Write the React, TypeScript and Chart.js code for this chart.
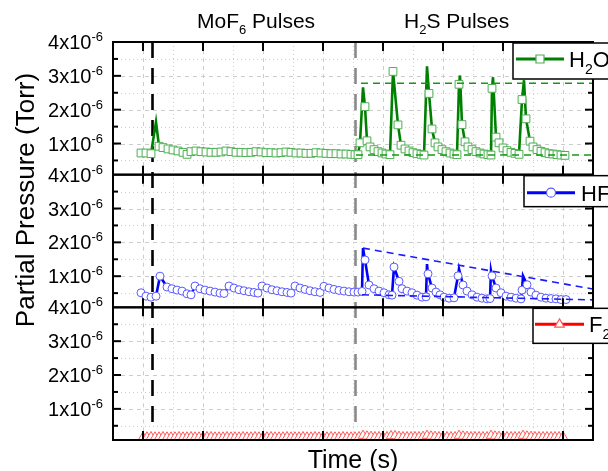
import React, { useEffect, useRef } from 'react';
import { Chart, registerables } from 'chart.js';

Chart.register(...registerables);

const FONT = '"Liberation Sans", Arial, Helvetica, sans-serif';

// ---------- axes ----------
const timeMin = 0;
const timeMax = 960; // s
const timeTicks = [60, 180, 300, 420, 540, 660, 780, 900];
const timeMinorGrid = [120, 240, 360, 480, 600, 720, 840];
const pressureMin = 0.08; // x1e-6 Torr
const pressureMax = 4;
const pressureTicks = [1, 2, 3, 4];
const pressureMinor = [0.5, 1.5, 2.5, 3.5];
const pressureExponent = '-6';
const mof6PulseStart = 79;
const h2sPulseStart = 485;

// ---------- H2O (x1e-6 Torr) ----------
const h2oTime = [
  56, 66, 76, 86, 92, 100, 110, 120, 130, 140, 148, 156, 166, 176, 186, 196, 206, 216, 226, 236,
  246, 256, 266, 276, 286, 296, 306, 316, 326, 336, 346, 356, 366, 376, 386, 396, 406, 416, 426, 436,
  446, 456, 466, 476, 484,
  490, 494, 500, 504, 508, 514, 522, 530, 538, 546, 554,
  560, 570, 576, 584, 592, 600, 608, 616, 622,
  628, 632, 638, 644, 650, 658, 666, 674, 682, 688,
  692, 694, 698, 704, 710, 718, 726, 734, 742, 750, 756,
  758, 760, 766, 772, 780, 788, 796, 804, 812,
  818, 822, 826, 834, 840, 848, 856, 864, 872, 880, 888, 896, 904,
];
const h2oValues = [
  0.72, 0.72, 0.70, 1.64, 0.92, 0.88, 0.84, 0.81, 0.78, 0.74, 0.68, 0.76, 0.78, 0.76, 0.75, 0.74, 0.74, 0.75, 0.78, 0.76,
  0.74, 0.74, 0.73, 0.74, 0.76, 0.75, 0.73, 0.73, 0.72, 0.73, 0.75, 0.74, 0.72, 0.72, 0.71, 0.71, 0.73, 0.72, 0.71, 0.70,
  0.70, 0.69, 0.69, 0.68, 0.67,
  0.67, 1.02, 2.66, 2.09, 1.08, 0.90, 0.82, 0.76, 0.72, 0.69, 0.67,
  3.13, 1.55, 0.95, 0.84, 0.78, 0.73, 0.70, 0.68, 0.66,
  3.28, 2.48, 1.43, 1.02, 0.90, 0.82, 0.76, 0.72, 0.69, 0.67,
  2.75, 3.01, 1.56, 1.05, 0.90, 0.82, 0.76, 0.72, 0.69, 0.67, 0.66,
  2.63, 2.96, 1.19, 1.02, 0.87, 0.79, 0.74, 0.71, 0.68,
  2.30, 2.87, 1.73, 1.07, 0.90, 0.82, 0.77, 0.73, 0.70, 0.69, 0.67, 0.66, 0.65,
];
const h2oUnmarkedTimes = [86, 500, 628, 694, 760, 822];
const h2oEnvelopeTopTime = [496, 960];
const h2oEnvelopeTop = [2.78, 2.78];
const h2oEnvelopeBottomTime = [486, 960];
const h2oEnvelopeBottom = [0.66, 0.66];

// ---------- HF ----------
const hfTime = [
  56, 66, 76, 86, 94, 108, 118, 128, 138, 148, 156, 164, 174, 184, 194, 204, 214, 222, 232, 242,
  252, 262, 272, 282, 290, 298, 308, 318, 328, 338, 348, 356, 364, 374, 384, 394, 404, 414, 422, 432,
  442, 452, 462, 472, 482,
  490, 498, 500, 504, 512, 522, 532, 542, 552, 558,
  562, 572, 578, 588, 598, 608, 618, 626,
  628, 630, 638, 646, 654, 662, 672, 682,
  690, 692, 700, 708, 718, 728, 738, 748, 754,
  756, 758, 766, 776, 786, 796, 806, 816,
  818, 820, 828, 836, 846, 856, 866, 876, 886, 896, 906,
];
const hfValues = [
  0.51, 0.41, 0.38, 0.41, 1.00, 0.68, 0.63, 0.59, 0.56, 0.48, 0.45, 0.71, 0.63, 0.59, 0.56, 0.53, 0.50, 0.49, 0.71, 0.65,
  0.60, 0.57, 0.54, 0.52, 0.50, 0.71, 0.65, 0.60, 0.57, 0.54, 0.52, 0.50, 0.71, 0.65, 0.61, 0.57, 0.54, 0.52, 0.70, 0.65,
  0.61, 0.58, 0.56, 0.54, 0.53,
  0.53, 0.55, 1.83, 1.48, 0.74, 0.63, 0.56, 0.51, 0.45, 0.44,
  1.27, 0.85, 0.63, 0.56, 0.51, 0.44, 0.38, 0.39,
  1.36, 1.07, 0.65, 0.53, 0.45, 0.38, 0.35, 0.36,
  1.01, 1.22, 0.74, 0.56, 0.45, 0.38, 0.35, 0.33, 0.34,
  1.16, 1.01, 0.65, 0.51, 0.41, 0.38, 0.35, 0.33,
  0.59, 1.01, 0.75, 0.53, 0.44, 0.38, 0.35, 0.34, 0.33, 0.31, 0.31,
];
const hfUnmarkedTimes = [500, 628, 692, 756, 820];
const hfEnvelopeTopTime = [500, 960];
const hfEnvelopeTop = [1.83, 0.62];
const hfEnvelopeBottomTime = [498, 960];
const hfEnvelopeBottom = [0.45, 0.30];

// ---------- F2 ----------
const f2Time = [
  60, 68, 76, 84, 92, 100, 108, 116, 124, 132,
  140, 148, 156, 164, 172, 180, 188, 196, 204, 212,
  220, 228, 236, 244, 252, 260, 268, 276, 284, 292,
  300, 308, 316, 324, 332, 340, 348, 356, 364, 372,
  380, 388, 396, 404, 412, 420, 428, 436, 444, 452,
  460, 468, 476, 484, 492, 500, 508, 516, 524, 532,
  540, 548, 556, 564, 572, 580, 588, 596, 604, 612,
  620, 628, 636, 644, 652, 660, 668, 676, 684, 692,
  700, 708, 716, 724, 732, 740, 748, 756, 764, 772,
  780, 788, 796, 804, 812, 820, 828, 836, 844, 852,
  860, 868, 876, 884, 892, 900,
];
const f2Values = [
  0.16, 0.16, 0.17, 0.16, 0.16, 0.17, 0.16, 0.16, 0.16, 0.17,
  0.16, 0.16, 0.17, 0.16, 0.16, 0.16, 0.17, 0.17, 0.16, 0.16,
  0.16, 0.17, 0.16, 0.16, 0.16, 0.17, 0.16, 0.16, 0.17, 0.16,
  0.16, 0.16, 0.17, 0.16, 0.16, 0.16, 0.17, 0.16, 0.16, 0.16,
  0.17, 0.16, 0.16, 0.17, 0.16, 0.16, 0.16, 0.17, 0.16, 0.16,
  0.17, 0.16, 0.16, 0.16, 0.17, 0.21, 0.19, 0.18, 0.17, 0.17,
  0.17, 0.17, 0.20, 0.20, 0.18, 0.17, 0.17, 0.17, 0.17, 0.17,
  0.18, 0.21, 0.19, 0.18, 0.17, 0.17, 0.17, 0.17, 0.17, 0.21,
  0.19, 0.18, 0.17, 0.17, 0.17, 0.17, 0.17, 0.21, 0.19, 0.18,
  0.17, 0.17, 0.17, 0.17, 0.17, 0.21, 0.19, 0.18, 0.17, 0.17,
  0.17, 0.17, 0.17, 0.17, 0.17, 0.17,
];

const zip = (xs: number[], ys: number[]) => xs.map((x, i) => ({ x, y: ys[i] }));

const panelIds = ['yH2O', 'yHF', 'yF2'];

function hLine(ctx: CanvasRenderingContext2D, x0: number, x1: number, y: number) {
  ctx.beginPath();
  ctx.moveTo(x0, y);
  ctx.lineTo(x1, y);
  ctx.stroke();
}
function vLine(ctx: CanvasRenderingContext2D, x: number, y0: number, y1: number) {
  ctx.beginPath();
  ctx.moveTo(x, y0);
  ctx.lineTo(x, y1);
  ctx.stroke();
}

type Part = [string, boolean];
function drawRich(ctx: CanvasRenderingContext2D, parts: Part[], x: number, y: number, size: number, align: 'left' | 'center') {
  const sub = Math.round(size * 0.62);
  const widths = parts.map(([s, isSub]) => {
    ctx.font = `${isSub ? sub : size}px ${FONT}`;
    return ctx.measureText(s).width;
  });
  const total = widths.reduce((a, b) => a + b, 0);
  let cx = align === 'center' ? x - total / 2 : x;
  ctx.textAlign = 'left';
  ctx.textBaseline = 'alphabetic';
  parts.forEach(([s, isSub], i) => {
    ctx.font = `${isSub ? sub : size}px ${FONT}`;
    ctx.fillText(s, cx, isSub ? y + size * 0.3 : y);
    cx += widths[i];
  });
}

function drawSci(ctx: CanvasRenderingContext2D, mant: string, exp: string, rightX: number, y: number) {
  const base = `${mant}x10`;
  ctx.font = `20px ${FONT}`;
  const wb = ctx.measureText(base).width;
  ctx.font = `13px ${FONT}`;
  const we = ctx.measureText(exp).width;
  const x0 = rightX - wb - we;
  ctx.textAlign = 'left';
  ctx.textBaseline = 'alphabetic';
  ctx.font = `20px ${FONT}`;
  ctx.fillText(base, x0, y + 7);
  ctx.font = `13px ${FONT}`;
  ctx.fillText(exp, x0 + wb, y - 1);
}

function drawMarker(ctx: CanvasRenderingContext2D, kind: string, x: number, y: number, color: string) {
  ctx.save();
  ctx.setLineDash([]);
  ctx.fillStyle = '#fff';
  ctx.strokeStyle = color;
  ctx.lineWidth = 1.2;
  ctx.beginPath();
  if (kind === 'rect') ctx.rect(x - 4, y - 4, 8, 8);
  else if (kind === 'circle') ctx.arc(x, y, 4.5, 0, Math.PI * 2);
  else {
    const r = 5.5;
    ctx.moveTo(x, y - r);
    ctx.lineTo(x + r * 0.866, y + r * 0.5);
    ctx.lineTo(x - r * 0.866, y + r * 0.5);
    ctx.closePath();
  }
  ctx.fill();
  ctx.stroke();
  ctx.restore();
}

function drawLegend(ctx: CanvasRenderingContext2D, o: any) {
  ctx.save();
  ctx.setLineDash([]);
  ctx.fillStyle = '#fff';
  ctx.fillRect(o.x, o.y, 200, o.h);
  ctx.strokeStyle = '#000';
  ctx.lineWidth = 1.5;
  ctx.strokeRect(o.x, o.y, 200, o.h);
  ctx.strokeStyle = o.color;
  ctx.lineWidth = 3;
  hLine(ctx, o.x0, o.x1, o.lineY);
  drawMarker(ctx, o.marker, (o.x0 + o.x1) / 2, o.lineY, o.markerColor);
  ctx.fillStyle = '#000';
  drawRich(ctx, o.parts, o.textX, o.lineY + 8, 22, 'left');
  ctx.restore();
}

const decor = {
  id: 'decor',
  beforeDatasetsDraw(chart: any) {
    const { ctx } = chart;
    const xs = chart.scales.x;
    const left = xs.left;
    const right = xs.right;
    ctx.save();
    ctx.strokeStyle = '#cdcdcd';
    ctx.lineWidth = 1;
    panelIds.forEach((id) => {
      const ys = chart.scales[id];
      ctx.setLineDash([4, 4]);
      pressureTicks.forEach((v) => {
        if (v >= pressureMax) return;
        hLine(ctx, left, right, Math.round(ys.getPixelForValue(v)) + 0.5);
      });
      timeTicks.forEach((t) => vLine(ctx, Math.round(xs.getPixelForValue(t)) + 0.5, ys.top, ys.bottom));
      ctx.setLineDash([1, 3]);
      pressureMinor.forEach((v) => hLine(ctx, left, right, Math.round(ys.getPixelForValue(v)) + 0.5));
      timeMinorGrid.forEach((t) => vLine(ctx, Math.round(xs.getPixelForValue(t)) + 0.5, ys.top, ys.bottom));
    });
    const top = chart.chartArea.top;
    const bottom = chart.chartArea.bottom - 10;
    ctx.lineWidth = 2.6;
    ctx.setLineDash([16, 10]);
    ctx.strokeStyle = '#000';
    vLine(ctx, xs.getPixelForValue(mof6PulseStart), top, bottom);
    ctx.strokeStyle = '#8a8a8a';
    vLine(ctx, xs.getPixelForValue(h2sPulseStart), top, bottom);
    ctx.restore();
  },
  afterDatasetsDraw(chart: any) {
    const { ctx } = chart;
    const xs = chart.scales.x;
    const left = xs.left;
    const right = xs.right;
    ctx.save();
    ctx.setLineDash([]);
    ctx.strokeStyle = '#000';
    ctx.fillStyle = '#000';
    ctx.lineWidth = 2;
    panelIds.forEach((id) => {
      const ys = chart.scales[id];
      timeTicks.forEach((t) => {
        const x = xs.getPixelForValue(t);
        vLine(ctx, x, ys.top, ys.top + 9);
        vLine(ctx, x, ys.bottom - 9, ys.bottom);
      });
      pressureTicks.forEach((v) => {
        if (v >= pressureMax) return;
        const y = ys.getPixelForValue(v);
        hLine(ctx, left, left + 8, y);
        hLine(ctx, right - 8, right, y);
      });
      pressureMinor.forEach((v) => {
        const y = ys.getPixelForValue(v);
        hLine(ctx, left, left + 5, y);
        hLine(ctx, right - 5, right, y);
      });
      ctx.strokeRect(left, ys.top, right - left, ys.bottom - ys.top);
      pressureTicks.forEach((v) => drawSci(ctx, String(v), pressureExponent, left - 10, ys.getPixelForValue(v)));
    });

    // titles
    drawRich(ctx, [['MoF', false], ['6', true], [' Pulses', false]], 197, 28, 21, 'left');
    drawRich(ctx, [['H', false], ['2', true], ['S Pulses', false]], 404, 28, 21, 'left');
    ctx.font = `25px ${FONT}`;
    ctx.textAlign = 'center';
    ctx.textBaseline = 'alphabetic';
    ctx.fillText('Time (s)', (left + right) / 2, 468);
    ctx.save();
    ctx.translate(34, 200);
    ctx.rotate(-Math.PI / 2);
    ctx.font = `26px ${FONT}`;
    ctx.fillText('Partial Pressure (Torr)', 0, 0);
    ctx.restore();

    const t1 = chart.scales.yH2O.top;
    const t2 = chart.scales.yHF.top;
    const t3 = chart.scales.yF2.top;
    drawLegend(ctx, { x: 513, y: t1 + 1, h: 36, lineY: t1 + 17, x0: 516, x1: 564, color: '#008000', markerColor: '#4caf50', marker: 'rect', parts: [['H', false], ['2', true], ['O', false]], textX: 569 });
    drawLegend(ctx, { x: 524, y: t2 + 1, h: 31, lineY: t2 + 18, x0: 527, x1: 575, color: '#0000ff', markerColor: '#5a5aff', marker: 'circle', parts: [['HF', false]], textX: 581 });
    drawLegend(ctx, { x: 533, y: t3 + 1, h: 35, lineY: t3 + 17, x0: 535, x1: 584, color: '#ff0000', markerColor: '#ff5a5a', marker: 'triangle', parts: [['F', false], ['2', true]], textX: 589 });
    ctx.restore();
  },
};

export default function App() {
  const ref = useRef<HTMLCanvasElement | null>(null);
  useEffect(() => {
    if (!ref.current) return;
    const h2oHide = new Set(h2oUnmarkedTimes);
    const hfHide = new Set(hfUnmarkedTimes);
    const guide = (color: string) => ({
      borderColor: color,
      borderWidth: 1.6,
      borderDash: [7, 5],
      pointRadius: 0,
      fill: false,
    });
    const chart = new Chart(ref.current, {
      type: 'line',
      data: {
        datasets: [
          { ...guide('#159a15'), data: zip(h2oEnvelopeTopTime, h2oEnvelopeTop), yAxisID: 'yH2O' },
          { ...guide('#159a15'), data: zip(h2oEnvelopeBottomTime, h2oEnvelopeBottom), yAxisID: 'yH2O' },
          { ...guide('#1a1aff'), data: zip(hfEnvelopeTopTime, hfEnvelopeTop), yAxisID: 'yHF' },
          { ...guide('#1a1aff'), data: zip(hfEnvelopeBottomTime, hfEnvelopeBottom), yAxisID: 'yHF' },
          {
            label: 'H2O',
            data: zip(h2oTime, h2oValues),
            yAxisID: 'yH2O',
            borderColor: '#008000',
            borderWidth: 2.6,
            pointStyle: 'rect',
            pointRadius: (c: any) => (h2oHide.has(h2oTime[c.dataIndex]) ? 0 : 5.5),
            pointBorderColor: '#4caf50',
            pointBackgroundColor: '#ffffff',
            pointBorderWidth: 1,
            tension: 0,
          },
          {
            label: 'HF',
            data: zip(hfTime, hfValues),
            yAxisID: 'yHF',
            borderColor: '#0000ff',
            borderWidth: 2.6,
            pointStyle: 'circle',
            pointRadius: (c: any) => (hfHide.has(hfTime[c.dataIndex]) ? 0 : 4),
            pointBorderColor: '#5a5aff',
            pointBackgroundColor: '#ffffff',
            pointBorderWidth: 1,
            tension: 0,
          },
          {
            label: 'F2',
            data: zip(f2Time, f2Values),
            yAxisID: 'yF2',
            borderColor: '#ff0000',
            borderWidth: 1.5,
            pointStyle: 'triangle',
            pointRadius: 5.5,
            pointBorderColor: '#ff5a5a',
            pointBackgroundColor: '#ffffff',
            pointBorderWidth: 1,
            tension: 0,
          },
        ],
      },
      options: {
        animation: false,
        responsive: false,
        devicePixelRatio: 1,
        layout: { padding: { left: 113, right: 15, top: 42, bottom: 31 } },
        plugins: { legend: { display: false }, tooltip: { enabled: false } },
        scales: {
          x: { type: 'linear', min: timeMin, max: timeMax, display: false },
          yH2O: { type: 'linear', position: 'left', stack: 'panels', stackWeight: 1, weight: 3, min: pressureMin, max: pressureMax, display: false },
          yHF: { type: 'linear', position: 'left', stack: 'panels', stackWeight: 1, weight: 2, min: pressureMin, max: pressureMax, display: false },
          yF2: { type: 'linear', position: 'left', stack: 'panels', stackWeight: 1, weight: 1, min: pressureMin, max: pressureMax, display: false },
        },
      } as any,
      plugins: [decor],
    });
    return () => chart.destroy();
  }, []);
  return (
    <div style={{ position: 'fixed', left: 0, top: 0, width: 608, height: 471, background: '#fff' }}>
      <canvas ref={ref} width={608} height={471} style={{ display: 'block' }} />
    </div>
  );
}
